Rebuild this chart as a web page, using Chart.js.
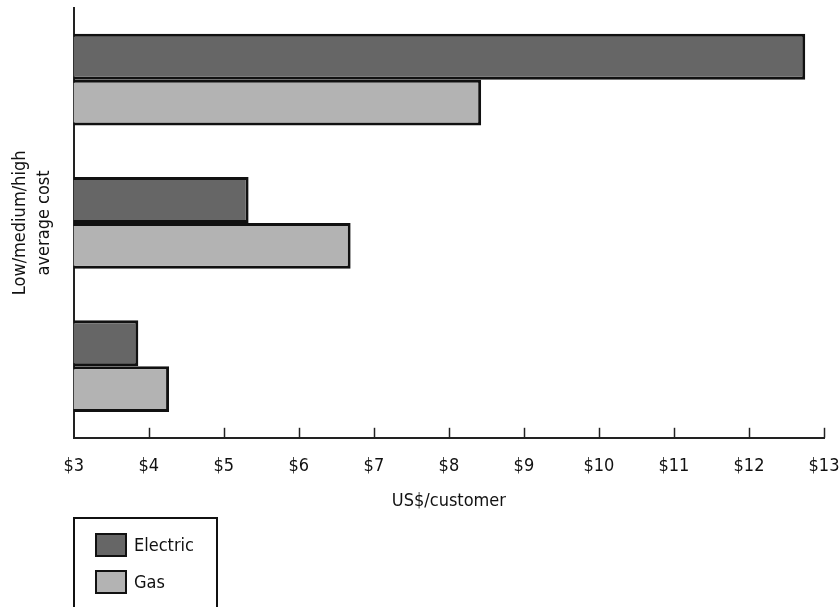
<!DOCTYPE html>
<html>
<head>
<meta charset="utf-8">
<script src="https://cdn.jsdelivr.net/npm/chart.js@4.4.1/dist/chart.umd.min.js"></script>
<style>
  html,body{margin:0;padding:0;background:#fff;}
  body{width:840px;height:607px;position:relative;overflow:hidden;font-family:"Liberation Sans Narrow","DejaVu Sans Condensed",sans-serif;}
  #wrap{position:absolute;left:0;top:0;width:840px;height:607px;}
  #legend{position:absolute;left:73px;top:517px;width:141px;height:110px;border:2px solid #111;}
  .item{position:absolute;left:20px;height:24px;font-size:18px;line-height:24px;color:#111;}
  .sw{display:inline-block;width:28px;height:20px;border:2px solid #111;vertical-align:top;margin-right:7px;}
</style>
</head>
<body>
<div id="wrap"><canvas id="c" width="840" height="607"></canvas></div>
<div id="legend"></div>
<script>
// data
const categories=['High','Medium','Low'];
const electric=[12.75,5.33,3.86];
const gas=[8.43,6.69,4.27];
const seriesNames=['Electric','Gas'];
const seriesColors=['#666666','#b3b3b3'];
const xMin=3, xMax=13;
const FONT='"Liberation Sans Narrow","DejaVu Sans Condensed",sans-serif';

// inward tick marks on the x axis
const tickMarks={
  id:'tickMarks',
  afterDraw(chart){
    const x=chart.scales.x, ctx=chart.ctx, b=chart.chartArea.bottom;
    ctx.save(); ctx.strokeStyle='#222'; ctx.lineWidth=1.5;
    x.ticks.forEach(t=>{
      if(t.value===xMin) return;
      const px=Math.round(x.getPixelForValue(t.value))+0.5;
      ctx.beginPath(); ctx.moveTo(px,b-10); ctx.lineTo(px,b); ctx.stroke();
    });
    ctx.restore();
  }
};

const chart=new Chart(document.getElementById('c'),{
  type:'bar',
  data:{
    labels:categories,
    datasets:[
      {label:seriesNames[0],data:electric,backgroundColor:seriesColors[0],borderColor:'#111',borderWidth:3},
      {label:seriesNames[1],data:gas,backgroundColor:seriesColors[1],borderColor:'#111',borderWidth:3}
    ]
  },
  options:{
    indexAxis:'y',
    responsive:false,
    animation:false,
    categoryPercentage:0.64,
    barPercentage:1,
    layout:{padding:{left:9,right:0,top:8,bottom:95}},
    plugins:{legend:{display:false},tooltip:{enabled:false}},
    scales:{
      x:{
        min:xMin,max:xMax,
        afterFit:s=>{s.paddingRight=16;},
        ticks:{stepSize:1,color:'#111',font:{family:FONT,size:18},padding:18,callback:v=>'$'+v},
        grid:{display:false,drawTicks:false},
        border:{color:'#222',width:2},
        title:{display:true,text:'US$/customer',color:'#111',font:{family:FONT,size:18},padding:{top:-5,bottom:0}}
      },
      y:{
        ticks:{display:false},
        grid:{display:false,drawTicks:false},
        border:{color:'#222',width:2},
        title:{display:true,text:['Low/medium/high','average cost'],color:'#111',font:{family:FONT,size:18,lineHeight:1.3},padding:{top:0,bottom:18}}
      }
    }
  },
  plugins:[tickMarks]
});

// legend box
const lg=document.getElementById('legend');
seriesNames.forEach((n,i)=>{
  const d=document.createElement('div'); d.className='item'; d.style.top=(14+i*37)+'px';
  d.innerHTML='<span class="sw" style="background:'+seriesColors[i]+'"></span>'+n;
  lg.appendChild(d);
});
</script>
</body>
</html>
